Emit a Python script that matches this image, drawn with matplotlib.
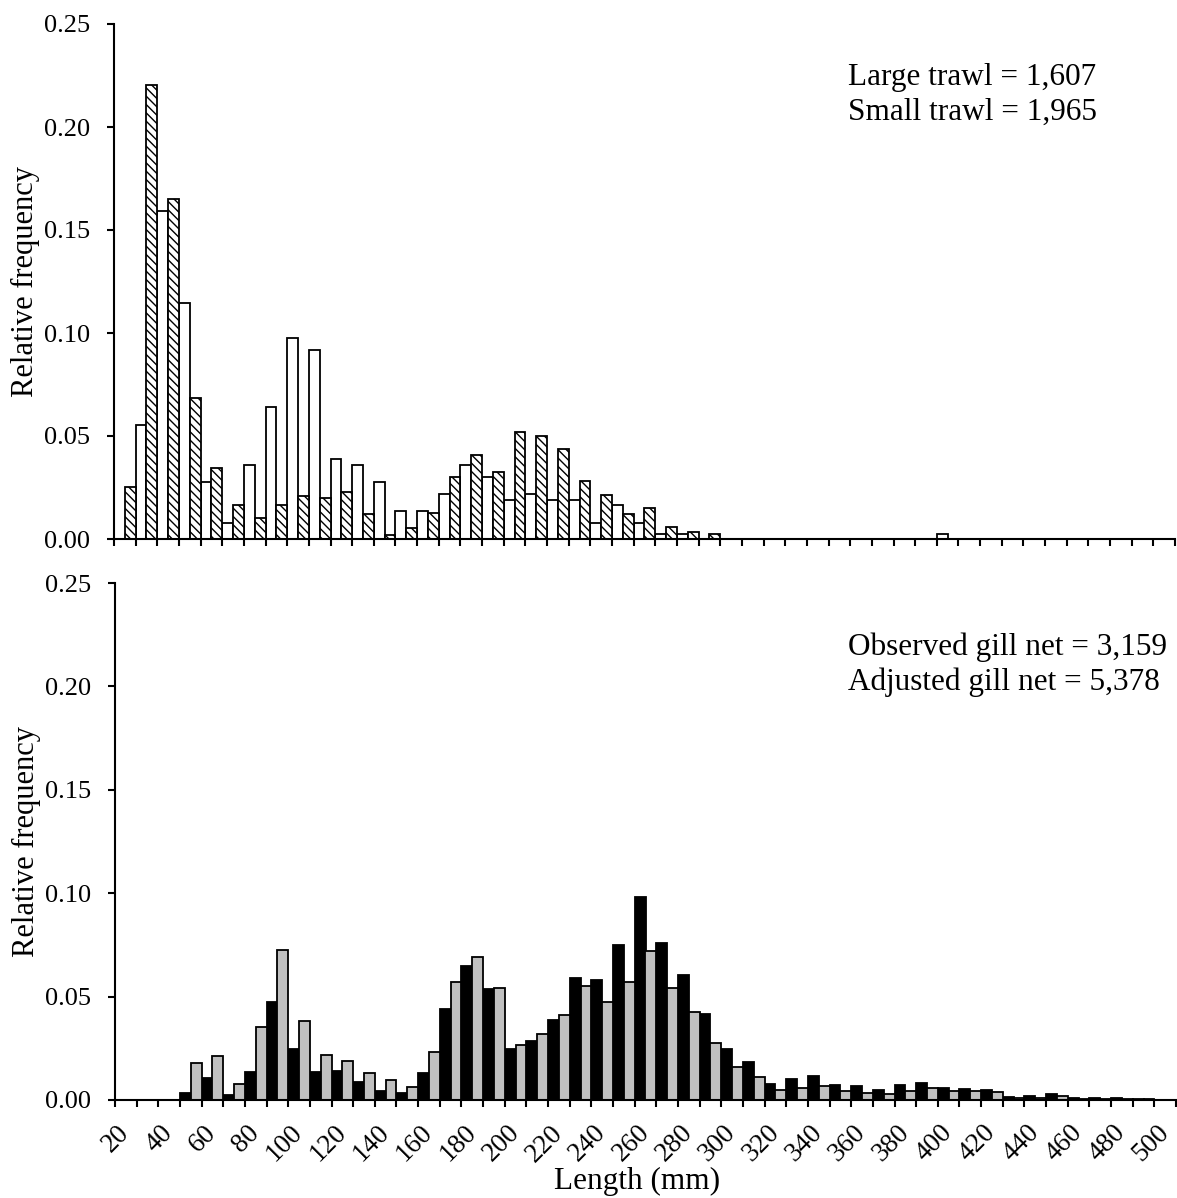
import matplotlib
matplotlib.use('Agg')
import matplotlib.pyplot as plt
import numpy as np

# ---- data ----
lengths = [20, 30, 40, 50, 60, 70, 80, 90, 100, 110, 120, 130, 140, 150, 160, 170,
           180, 190, 200, 210, 220, 230, 240, 250, 260, 270, 280, 290, 300, 310, 320,
           330, 340, 350, 360, 370, 380, 390, 400, 410, 420, 430, 440, 450, 460, 470,
           480, 490, 500]

large_trawl = [0.0, 0.0553, 0.159, 0.1144, 0.0277, 0.0079, 0.0359, 0.0641, 0.0976, 0.0919,
               0.0387, 0.0359, 0.0277, 0.0136, 0.0136, 0.022, 0.0359, 0.0302, 0.0191, 0.022,
               0.0191, 0.0191, 0.0079, 0.0163, 0.0079, 0.0023, 0.0023, 0.0,
               0.0, 0.0, 0.0, 0.0, 0.0, 0.0, 0.0, 0.0, 0.0, 0.0,
               0.0024,
               0.0, 0.0, 0.0, 0.0, 0.0, 0.0, 0.0, 0.0, 0.0, 0.0]

small_trawl = [0.0251, 0.2204, 0.165, 0.0683, 0.0346, 0.0165, 0.0103, 0.0165, 0.0207, 0.0201,
               0.0228, 0.0121, 0.002, 0.0052, 0.0128, 0.0301, 0.0408, 0.0327, 0.0519, 0.0502,
               0.0438, 0.0283, 0.0214, 0.0121, 0.0152, 0.0058, 0.0033, 0.0026,
               0.0, 0.0, 0.0, 0.0, 0.0, 0.0, 0.0, 0.0, 0.0, 0.0, 0.0,
               0.0, 0.0, 0.0, 0.0, 0.0, 0.0, 0.0, 0.0, 0.0, 0.0]

observed_gill = [0.0, 0.0, 0.0, 0.0032, 0.0108, 0.0024, 0.0134, 0.0475, 0.0246, 0.0137,
                 0.014, 0.0087, 0.0045, 0.0032, 0.0129, 0.0438, 0.0647, 0.0535, 0.0248, 0.0287,
                 0.0388, 0.0589, 0.058, 0.075, 0.0982, 0.0757, 0.0605, 0.0414, 0.0248, 0.0185,
                 0.0079, 0.0103, 0.0116, 0.0072, 0.0066, 0.0048, 0.0072, 0.0082, 0.0058, 0.0051,
                 0.0048, 0.0014, 0.0017, 0.0029, 0.001, 0.001, 0.001, 0.0005, 0.0]

adjusted_gill = [0.0, 0.0, 0.0, 0.0177, 0.0213, 0.0076, 0.0354, 0.0725, 0.0382, 0.0217,
                 0.019, 0.0129, 0.0095, 0.0061, 0.0233, 0.0569, 0.0692, 0.0543, 0.0266, 0.0319,
                 0.0412, 0.0551, 0.0475, 0.0569, 0.072, 0.0544, 0.0425, 0.0277, 0.0158, 0.0111,
                 0.0048, 0.0059, 0.0066, 0.0042, 0.0032, 0.0029, 0.0045, 0.0056, 0.0042, 0.0042,
                 0.004, 0.001, 0.001, 0.0019, 0.0007, 0.0007, 0.0005, 0.0004, 0.0]

yticks = [0.0, 0.05, 0.10, 0.15, 0.20, 0.25]
top_text = ["Large trawl = 1,607", "Small trawl = 1,965"]
bottom_text = ["Observed gill net = 3,159", "Adjusted gill net = 5,378"]
xlabel = "Length (mm)"
ylabel = "Relative frequency"

# ---- style ----
plt.rcParams['font.family'] = ['Liberation Serif', 'DejaVu Serif']
plt.rcParams['hatch.linewidth'] = 1.0
plt.rcParams['hatch.color'] = 'black'

W, H = 1177, 1198
fig = plt.figure(figsize=(W / 100, H / 100), dpi=100)
ax1 = fig.add_axes([114 / W, 1 - 539 / H, 1061 / W, 515 / H])
ax2 = fig.add_axes([115 / W, 1 - 1100 / H, 1061 / W, 517 / H])

n = len(lengths)
idx = np.arange(n)
lw = 1.3

ax1.bar(idx + 0.25, large_trawl, width=0.5, color='white', edgecolor='black', linewidth=lw)
ax1.bar(idx + 0.75, small_trawl, width=0.5, color='white', edgecolor='black',
        hatch='\\\\\\\\', linewidth=lw)

ax2.bar(idx + 0.25, observed_gill, width=0.5, color='black', edgecolor='black', linewidth=lw)
ax2.bar(idx + 0.75, adjusted_gill, width=0.5, color='#C0C0C0', edgecolor='black', linewidth=lw)

label_pos = [i + 0.5 for i in range(0, n, 2)]
label_txt = [str(lengths[i]) for i in range(0, n, 2)]

for ax in (ax1, ax2):
    ax.set_xlim(0, n)
    ax.set_ylim(0, 0.25)
    for s in ('top', 'right'):
        ax.spines[s].set_visible(False)
    for s in ('left', 'bottom'):
        ax.spines[s].set_linewidth(1.5)
        ax.spines[s].set_zorder(5)
    ax.set_yticks(yticks)
    ax.set_yticklabels([f"{v:.2f}" for v in yticks])
    ax.tick_params(axis='y', direction='out', length=5.0, width=1.5, labelsize=19, pad=12)
    ax.set_xticks(np.arange(0, n + 1), minor=True)
    ax.tick_params(axis='x', which='minor', direction='out', length=5.0, width=1.5)
    ax.text(-0.0835, 0.5, ylabel, transform=ax.transAxes, rotation=90,
            ha='center', va='center', fontsize=22)

ax1.set_xticks([])
ax2.set_xticks(label_pos)
ax2.set_xticklabels(label_txt)
ax2.tick_params(axis='x', which='major', length=0, labelsize=19.5, pad=21)
for lab in ax2.get_xticklabels():
    lab.set_rotation(45)
    lab.set_ha('right')
    lab.set_va('center')
    lab.set_rotation_mode('anchor')

fig.text(637 / W, 1 - 1189 / H, xlabel, ha='center', va='baseline', fontsize=22.5)

fig.text(848 / W, 1 - 85 / H, top_text[0], ha='left', va='baseline', fontsize=22.5)
fig.text(848 / W, 1 - 120 / H, top_text[1], ha='left', va='baseline', fontsize=22.5)
fig.text(848 / W, 1 - 655 / H, bottom_text[0], ha='left', va='baseline', fontsize=22.5)
fig.text(848 / W, 1 - 690 / H, bottom_text[1], ha='left', va='baseline', fontsize=22.5)

fig.savefig('out.png', dpi=100, facecolor='white')
